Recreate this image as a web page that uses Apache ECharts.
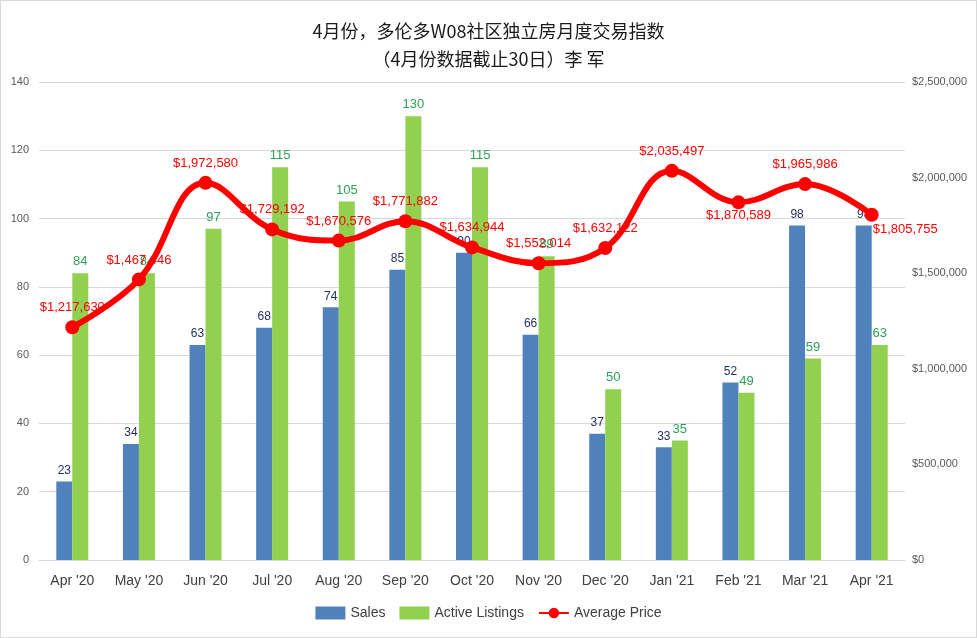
<!DOCTYPE html>
<html>
  <head>
    <meta charset="UTF-8" />
    <title>多伦多W08社区独立房月度交易指数</title>
    <script src="https://cdn.jsdelivr.net/npm/echarts@6/dist/echarts.min.js"></script>
    <style>
      body {
        padding: 0;
        margin: 0;
        background: #fff;
      }
      #main {
        width: 975px;
        height: 636px;
        border: 1px solid #d9d9d9;
      }
    </style>
  </head>
  <body>
    <div id="main"></div>
    <script type="text/javascript">
      var months = ["Apr '20", "May '20", "Jun '20", "Jul '20", "Aug '20", "Sep '20", "Oct '20",
        "Nov '20", "Dec '20", "Jan '21", "Feb '21", "Mar '21", "Apr '21"];
      var sales = [23, 34, 63, 68, 74, 85, 90, 66, 37, 33, 52, 98, 98];
      var listings = [84, 84, 97, 115, 105, 130, 115, 89, 50, 35, 49, 59, 63];
      var avgPrice = [1217630, 1467446, 1972580, 1729192, 1670576, 1771882, 1634944,
        1552014, 1632122, 2035497, 1870589, 1965986, 1805755];

      var font = "Liberation Sans";

      function money(v) {
        return "$" + Math.round(v).toString().replace(/\B(?=(\d{3})+(?!\d))/g, ",");
      }

      // a couple of price labels sit below the point in the original
      var priceData = avgPrice.map(function(v, i) {
        var d = { value: v };
        if (i === 10) {
          d.label = { position: "bottom", distance: 0 };
        }
        if (i === 12) {
          d.label = { position: "right", distance: -6, offset: [0, 15] };
        }
        return d;
      });

      var chart = echarts.init(document.getElementById("main"));
      var option = {
        animation: false,
        textStyle: { fontFamily: font },
        title: {
          text: "4月份，多伦多W08社区独立房月度交易指数\n（4月份数据截止30日）李 军",
          left: "center",
          top: 11,
          textStyle: {
            fontFamily: "Noto Sans CJK SC",
            fontSize: 18,
            fontWeight: "normal",
            color: "#1a1a1a",
            lineHeight: 28
          }
        },
        legend: {
          bottom: 12,
          itemGap: 14,
          itemWidth: 30,
          itemHeight: 13,
          textStyle: { fontSize: 14, color: "#404040", fontFamily: font },
          data: [
            { name: "Sales", icon: "rect" },
            { name: "Active Listings", icon: "rect" },
            { name: "Average Price" }
          ]
        },
        grid: { left: 38, right: 71, top: 81, bottom: 77 },
        xAxis: {
          type: "category",
          data: months,
          axisTick: { show: false },
          axisLine: { lineStyle: { color: "#d9d9d9" } },
          axisLabel: { color: "#404040", fontSize: 14, margin: 14 }
        },
        yAxis: [
          {
            type: "value",
            min: 0,
            max: 140,
            interval: 20,
            axisLabel: { color: "#595959", fontSize: 11, margin: 10 },
            splitLine: { lineStyle: { color: "#d9d9d9" } }
          },
          {
            type: "value",
            min: 0,
            max: 2500000,
            interval: 500000,
            position: "right",
            axisLabel: {
              color: "#595959",
              fontSize: 11,
              margin: 7,
              formatter: money
            },
            splitLine: { show: false }
          }
        ],
        series: [
          {
            name: "Sales",
            type: "bar",
            data: sales,
            barWidth: 16,
            barGap: "0%",
            itemStyle: { color: "#4f81bd" },
            label: { show: true, position: "top", color: "#1f2d5a", fontSize: 12 }
          },
          {
            name: "Active Listings",
            type: "bar",
            data: listings,
            barWidth: 16,
            itemStyle: { color: "#92d050" },
            label: { show: true, position: "top", color: "#2ca05a", fontSize: 13 }
          },
          {
            name: "Average Price",
            type: "line",
            yAxisIndex: 1,
            data: priceData,
            smooth: 0.4,
            symbol: "circle",
            symbolSize: 14,
            z: 5,
            lineStyle: { color: "#ff0000", width: 6 },
            itemStyle: { color: "#ff0000" },
            label: {
              show: true,
              position: "top",
              distance: 6,
              color: "#ff0000",
              fontSize: 13,
              formatter: function(p) {
                return money(p.value);
              }
            }
          }
        ]
      };
      chart.setOption(option);
    </script>
  </body>
</html>
